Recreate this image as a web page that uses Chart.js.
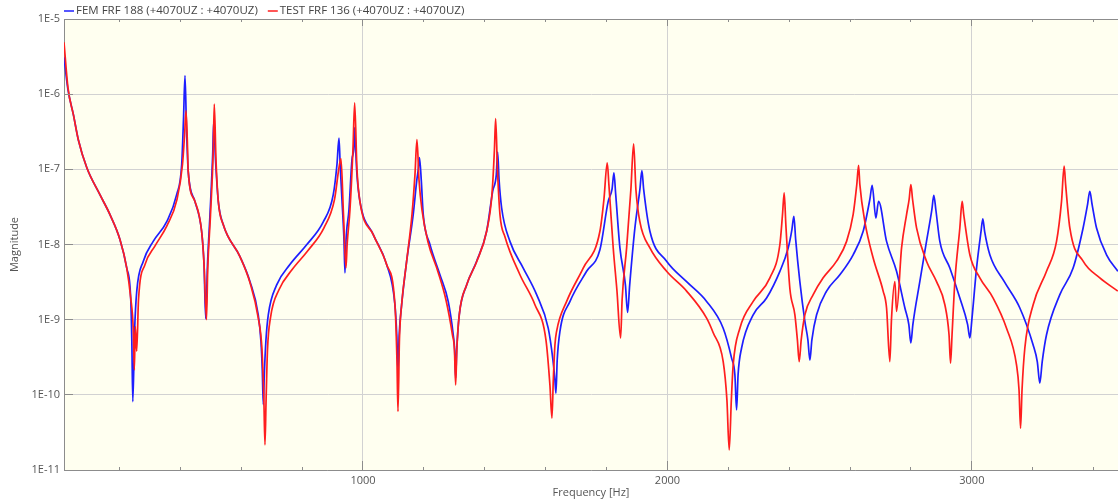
<!DOCTYPE html>
<html>
<head>
<meta charset="utf-8">
<script src="https://cdn.jsdelivr.net/npm/chart.js@4/dist/chart.umd.min.js"></script>
<style>
  html, body { margin: 0; padding: 0; background: #fff; }
  #wrap { width: 1118px; height: 499px; }
</style>
</head>
<body>
<div id="wrap"><canvas id="frfChart" width="1118" height="499"></canvas></div>
<script>
// FRF magnitude, driving point +4070UZ : +4070UZ (FEM vs test)
var femFreq = [
  18, 31, 49, 65, 93, 136, 169, 202, 224, 237, 240.7, 244,
  250, 257, 278.5, 311, 355, 388, 404.6, 410.5, 415.4, 420.4,
  426, 448, 470, 478, 483.4, 489.3, 497.5, 506.4, 509.7, 515.6, 524.8,
  541, 596, 629, 656, 665, 669.3, 672.6, 675.9, 681.4, 689, 716.6, 760, 815,
  869.6, 902.4, 914.6, 921.2, 925.1, 931, 937.6, 940.9, 944.5, 954, 963.9, 969.5, 972.7, 976, 980.3,
  990, 1033.8, 1077.8, 1105, 1111, 1115, 1119, 1127, 1143.5, 1165, 1177, 1181.6, 1185.5, 1191.4,
  1198, 1220, 1252.8, 1280, 1296.5, 1301.1, 1304.4, 1308, 1316.3, 1340.5, 1373.4, 1406.2,
  1426, 1438, 1442.3, 1447, 1455.5, 1482.7, 1526.4, 1570.4, 1608.5, 1624, 1630.5, 1633.8, 1638, 1647,
  1680, 1734.6, 1778.3, 1805.5, 1818, 1824.3, 1830.2, 1844, 1862, 1869.2, 1876.1, 1893.2, 1909.6, 1916.2, 1922, 1942.5,
  1997.3, 2063, 2128.7, 2183.2, 2210.8, 2221.6, 2227.2, 2232.1, 2243.6, 2281.7, 2325.7, 2369.4,
  2396.7, 2408.8, 2415.4, 2421.3, 2435, 2451.5, 2461.4, 2468, 2474.5, 2490, 2522.8, 2566.4, 2610, 2643,
  2665, 2672.5, 2684.7, 2693.5, 2719.8, 2752.6, 2780, 2793, 2799.6, 2806.2, 2829, 2851, 2868.6, 2875, 2881.7,
  2894.8, 2927.7, 2960.5, 2986.1, 2993.4, 3000, 3015.4, 3030, 3036, 3042, 3059, 3106.6, 3157.6, 3201.3,
  3215, 3223.2, 3231, 3245.2, 3289, 3332.6, 3365.4, 3380, 3387.4, 3395, 3409.5, 3442.3, 3479.4
];
var femMag = [
  3.1e-6, 1.15e-6, 5.3e-7, 2.48e-7, 1.05e-7, 4.6e-8, 2.5e-8, 1.16e-8, 4.9e-9, 1.96e-9, 5.4e-10, 8.1e-11,
  7.3e-10, 2.4e-9, 6.0e-9, 1.1e-8, 2.0e-8, 4.6e-8, 1.16e-7, 4.6e-7, 1.77e-6, 3.4e-7,
  9.4e-8, 3.75e-8, 1.5e-8, 5.4e-9, 1.03e-9, 5.4e-9, 2.5e-8, 1.57e-7, 4.35e-7, 1.35e-7, 3.75e-8,
  1.84e-8, 6.9e-9, 3.2e-9, 1.16e-9, 5.1e-10, 2.15e-10, 7.4e-11, 1.85e-10, 5.4e-10, 1.16e-9, 2.9e-9, 5.4e-9, 9.9e-9,
  2.0e-8, 4.6e-8, 1.16e-7, 2.6e-7, 1.16e-7, 3.95e-8, 1.16e-8, 4.2e-9, 1.16e-8, 2.9e-8, 1.35e-7, 1.83e-7, 3.6e-7, 1.83e-7, 8.5e-8,
  3.75e-8, 1.35e-8, 5.4e-9, 1.58e-9, 6.3e-10, 2.15e-10, 6.3e-10, 1.58e-9, 6.0e-9, 2.5e-8, 7.3e-8, 9.9e-8, 1.43e-7, 7.3e-8,
  2.5e-8, 1.0e-8, 3.96e-9, 1.75e-9, 6.3e-10, 3.98e-10, 1.68e-10, 3.98e-10, 1.16e-9, 2.9e-9, 6.0e-9, 1.5e-8,
  5.1e-8, 8.5e-8, 1.7e-7, 7.3e-8, 3.06e-8, 1.1e-8, 4.86e-9, 2.15e-9, 7.7e-10, 2.9e-10, 1.58e-10, 1.05e-10, 2.9e-10, 7.0e-10,
  1.75e-9, 4.4e-9, 8.5e-9, 3.75e-8, 5.4e-8, 8.95e-8, 4.6e-8, 9.0e-9, 2.9e-9, 1.25e-9, 2.9e-9, 1.66e-8, 5.4e-8, 9.6e-8, 5.4e-8, 1.5e-8,
  6.0e-9, 3.2e-9, 1.75e-9, 7.7e-10, 3.08e-10, 1.85e-10, 6.3e-11, 1.85e-10, 4.2e-10, 1.16e-9, 1.94e-9, 4.4e-9,
  9.0e-9, 1.57e-8, 2.37e-8, 1.16e-8, 3.2e-9, 9.5e-10, 5.4e-10, 2.9e-10, 5.4e-10, 1.16e-9, 2.4e-9, 3.96e-9, 7.3e-9, 1.5e-8,
  4.0e-8, 6.1e-8, 2.25e-8, 3.75e-8, 1.1e-8, 4.4e-9, 1.43e-9, 8.6e-10, 4.9e-10, 8.6e-10, 3.2e-9, 1.1e-8, 2.9e-8, 4.5e-8, 2.9e-8,
  1.1e-8, 4.86e-9, 1.94e-9, 8.6e-10, 5.7e-10, 1.0e-9, 4.86e-9, 1.48e-8, 2.2e-8, 1.48e-8, 7.3e-9, 3.2e-9, 1.43e-9, 4.6e-10,
  2.75e-10, 1.43e-10, 2.75e-10, 6.3e-10, 2.15e-9, 4.86e-9, 1.66e-8, 3.4e-8, 5.1e-8, 3.4e-8, 1.66e-8, 7.3e-9, 4.4e-9
];
var testFreq = [
  18, 31, 49, 65, 93, 136, 169, 202, 224, 237, 245.6, 249,
  252.2, 256.8, 262.7, 284, 317, 356.3, 389, 407.2, 414.1, 418.7, 423, 426,
  448, 470, 478, 486, 490, 499.2, 508.4, 511.6, 517.2, 524.8, 541,
  596, 629, 656, 668.3, 674.5, 678.1, 681.8, 686.4, 696.2, 724.1, 766.8, 819.4,
  871.9, 906.4, 921.2, 927.7, 936, 944.2, 948, 957.3, 967.1, 972.7, 980.3,
  990, 1033.8, 1077.8, 1105, 1111.6, 1115, 1119.8, 1127, 1143.5, 1161,
  1170.8, 1177.3, 1184, 1193.7, 1213.4, 1246.3, 1272.5, 1293.9, 1300.5, 1304.4, 1308.3, 1316.3,
  1340.5, 1373.4, 1406.2, 1423.6, 1431.8, 1435.8, 1441.7, 1450, 1466.3, 1515.6,
  1564.8, 1601, 1614, 1620.7, 1625.2, 1630.5, 1636, 1669, 1723.4, 1778.3, 1791.4,
  1802.3, 1807.8, 1822, 1834, 1846.3, 1851.2, 1866, 1880, 1889, 1896.5, 1909.6, 1942.5,
  1997.3, 2063, 2128.7, 2150.4, 2183.2, 2195.4, 2203, 2210, 2216, 2238,
  2281.7, 2336.6, 2369.4, 2378, 2383.5, 2389, 2402.2, 2418.7, 2426.9, 2432.8, 2439.4, 2451.5, 2478.8, 2511.6,
  2555.6, 2588.5, 2610, 2622, 2627.9, 2632.1, 2648.6, 2675.8, 2708.6, 2719.8, 2730.6, 2735.9,
  2747.1, 2752.6, 2769.1, 2785.5, 2794, 2799.6, 2805.2, 2818.3, 2851, 2884, 2911.3, 2925, 2930, 2934.9,
  2944.1, 2960.5, 2968.1, 2973.3, 2993.4, 3026.2, 3069.9, 3113.9, 3146.7, 3154.9, 3159.9, 3164.8, 3174,
  3201.3, 3245.2, 3278.1, 3294.5, 3303.1, 3308, 3321.8, 3365.4, 3420.3, 3479.4
];
var testMag = [
  4.9e-6, 1.22e-6, 5.3e-7, 2.48e-7, 1.05e-7, 4.6e-8, 2.5e-8, 1.16e-8, 4.9e-9, 1.96e-9, 7.3e-10, 2.15e-10,
  8.1e-10, 3.8e-10, 1.84e-9, 5.4e-9, 9.6e-9, 1.78e-8, 3.95e-8, 1.16e-7, 2.9e-7, 6.05e-7, 2.48e-7, 9.4e-8,
  3.75e-8, 1.5e-8, 5.4e-9, 1.0e-9, 4.6e-9, 2.5e-8, 1.83e-7, 7.4e-7, 1.35e-7, 3.75e-8, 1.84e-8,
  6.9e-9, 3.1e-9, 1.06e-9, 3.97e-10, 8.6e-11, 2.16e-11, 8.6e-11, 3.97e-10, 1.06e-9, 2.5e-9, 4.6e-9, 8.3e-9,
  1.67e-8, 3.95e-8, 1.05e-7, 1.39e-7, 2.5e-8, 4.9e-9, 1.0e-8, 2.9e-8, 1.83e-7, 7.65e-7, 1.0e-7,
  3.75e-8, 1.35e-8, 5.4e-9, 1.58e-9, 2.9e-10, 6.0e-11, 5.4e-10, 1.58e-9, 6.0e-9, 2.5e-8,
  8.5e-8, 2.48e-7, 7.3e-8, 2.9e-8, 1.09e-8, 4.35e-9, 1.84e-9, 6.3e-10, 3.98e-10, 1.36e-10, 3.98e-10, 1.16e-9,
  2.9e-9, 5.9e-9, 1.5e-8, 4.6e-8, 1.83e-7, 4.73e-7, 1.0e-7, 2.5e-8, 1.27e-8, 3.96e-9,
  1.58e-9, 5.4e-10, 1.36e-10, 4.9e-11, 1.58e-10, 4.6e-10, 7.0e-10, 1.75e-9, 4.86e-9, 1.5e-8, 3.95e-8,
  1.22e-7, 6.25e-8, 9.0e-9, 2.5e-9, 5.7e-10, 1.84e-9, 9.0e-9, 5.4e-8, 2.18e-7, 5.4e-8, 2.0e-8, 9.0e-9,
  4.4e-9, 2.4e-9, 1.05e-9, 6.7e-10, 2.77e-10, 8.6e-11, 1.85e-11, 8.6e-11, 2.5e-10, 7.7e-10,
  1.75e-9, 3.6e-9, 1.0e-8, 2.5e-8, 4.85e-8, 1.84e-8, 2.6e-9, 1.16e-9, 5.4e-10, 2.77e-10, 5.4e-10, 1.16e-9, 2.15e-9, 3.6e-9,
  6.0e-9, 1.1e-8, 2.5e-8, 6.25e-8, 1.13e-7, 6.25e-8, 2.0e-8, 6.6e-9, 2.4e-9, 1.43e-9, 2.77e-10, 1.0e-9,
  3.2e-9, 1.29e-9, 9.0e-9, 2.5e-8, 4.0e-8, 6.25e-8, 4.0e-8, 1.66e-8, 6.0e-9, 3.2e-9, 1.58e-9, 6.3e-10, 2.64e-10, 6.3e-10,
  3.2e-9, 1.66e-8, 3.75e-8, 2.5e-8, 7.3e-9, 3.6e-9, 1.94e-9, 7.7e-10, 2.5e-10, 1.17e-10, 3.6e-11, 1.17e-10, 4.2e-10,
  1.58e-9, 4.4e-9, 1.1e-8, 3.75e-8, 1.1e-7, 6.25e-8, 1.66e-8, 6.0e-9, 3.6e-9, 2.4e-9
];

// axis ticks: minor every 200 Hz (labelled each 1000), decades on magnitude
var freqTicks = [200, 400, 600, 800, 1000, 1200, 1400, 1600, 1800, 2000,
                 2200, 2400, 2600, 2800, 3000, 3200, 3400];
var magTicks = [1e-11, 1e-10, 1e-9, 1e-8, 1e-7, 1e-6, 1e-5];

var FONT = '"Open Sans", "Noto Sans", sans-serif';
var plotBg = '#fffff0';
var frameColor = '#8c8c8c';
var gridColor = '#d2d2d2';

function toPoints(xs, ys) {
    return xs.map(function(f, i) { return { x: f, y: ys[i] }; });
}

function alignPx(p) { return Math.round(p - 0.5) + 0.5; }

// plot background, top frame line and inward tick marks
var plotFrame = {
    id: 'plotFrame',
    beforeDraw: function(chart) {
        var a = chart.chartArea, ctx = chart.ctx;
        ctx.save();
        ctx.fillStyle = plotBg;
        ctx.fillRect(a.left, a.top, a.right - a.left, a.bottom - a.top);
        ctx.restore();
    },
    afterDatasetsDraw: function(chart) {
        var a = chart.chartArea, ctx = chart.ctx;
        var xs = chart.scales.x, ys = chart.scales.y;
        ctx.save();
        ctx.strokeStyle = frameColor;
        ctx.lineWidth = 1;
        ctx.beginPath();
        ctx.moveTo(a.left, alignPx(a.top));
        ctx.lineTo(a.right, alignPx(a.top));
        xs.ticks.forEach(function(t) {
            var px = alignPx(xs.getPixelForValue(t.value));
            var major = t.value % 1000 === 0;
            ctx.moveTo(px, a.bottom);
            ctx.lineTo(px, a.bottom - (major ? 9 : 3));
            ctx.moveTo(px, a.top);
            ctx.lineTo(px, a.top + (major ? 7 : 3));
        });
        ys.ticks.forEach(function(t) {
            var py = alignPx(ys.getPixelForValue(t.value));
            ctx.moveTo(a.left, py);
            ctx.lineTo(a.left + 9, py);
        });
        ctx.stroke();
        ctx.restore();
    }
};

// single-row legend sitting above the plot, aligned with its left edge
var topLegend = {
    id: 'topLegend',
    afterDraw: function(chart) {
        var ctx = chart.ctx;
        var xPos = chart.chartArea.left;
        var yMid = 11;
        ctx.save();
        ctx.font = '11.5px ' + FONT;
        ctx.textBaseline = 'middle';
        chart.data.datasets.forEach(function(ds) {
            ctx.strokeStyle = ds.borderColor;
            ctx.lineWidth = 1.5;
            ctx.beginPath();
            ctx.moveTo(xPos, yMid);
            ctx.lineTo(xPos + 10, yMid);
            ctx.stroke();
            ctx.fillStyle = '#444';
            ctx.fillText(ds.label, xPos + 12, yMid);
            xPos += 12 + ctx.measureText(ds.label).width + 10;
        });
        ctx.restore();
    }
};

Chart.defaults.font.family = FONT;
Chart.defaults.font.size = 11;
Chart.defaults.color = '#555';

new Chart(document.getElementById('frfChart'), {
    type: 'line',
    data: {
        datasets: [{
            label: 'FEM FRF 188 (+4070UZ : +4070UZ)',
            data: toPoints(femFreq, femMag),
            borderColor: '#1e1eff',
            borderWidth: 1.7,
            pointRadius: 0,
            cubicInterpolationMode: 'monotone',
            order: 2
        }, {
            label: 'TEST FRF 136 (+4070UZ : +4070UZ)',
            data: toPoints(testFreq, testMag),
            borderColor: '#ff1e1e',
            borderWidth: 1.7,
            pointRadius: 0,
            cubicInterpolationMode: 'monotone',
            order: 1
        }]
    },
    options: {
        responsive: false,
        animation: false,
        events: [],
        layout: { padding: { top: 19, right: 0, bottom: 0, left: 0 } },
        plugins: {
            legend: { display: false },
            tooltip: { enabled: false }
        },
        scales: {
            x: {
                type: 'linear',
                min: 18,
                max: 3480,
                afterBuildTicks: function(scale) {
                    scale.ticks = freqTicks.map(function(v) { return { value: v }; });
                },
                afterFit: function(scale) { scale.height = 29; },
                ticks: {
                    autoSkip: false,
                    maxRotation: 0,
                    padding: 4,
                    callback: function(v) { return v % 1000 === 0 ? String(v) : ''; }
                },
                grid: {
                    drawTicks: false,
                    color: function(ctx) {
                        return ctx.tick && ctx.tick.value % 1000 === 0 ? gridColor : 'rgba(0,0,0,0)';
                    }
                },
                border: { color: frameColor, width: 1 },
                title: { display: true, text: 'Frequency [Hz]', padding: { top: 0, bottom: 0 } }
            },
            y: {
                type: 'logarithmic',
                min: 1e-11,
                max: 1e-5,
                afterBuildTicks: function(scale) {
                    scale.ticks = magTicks.map(function(v) { return { value: v }; });
                },
                afterFit: function(scale) { scale.width = 64; },
                ticks: {
                    padding: 4,
                    callback: function(v) { return '1E' + Math.round(Math.log10(v)); }
                },
                grid: { drawTicks: false, color: gridColor },
                border: { color: frameColor, width: 1 },
                title: { display: true, text: 'Magnitude', padding: { top: 8, bottom: 0 } }
            }
        }
    },
    plugins: [plotFrame, topLegend]
});
</script>
</body>
</html>
